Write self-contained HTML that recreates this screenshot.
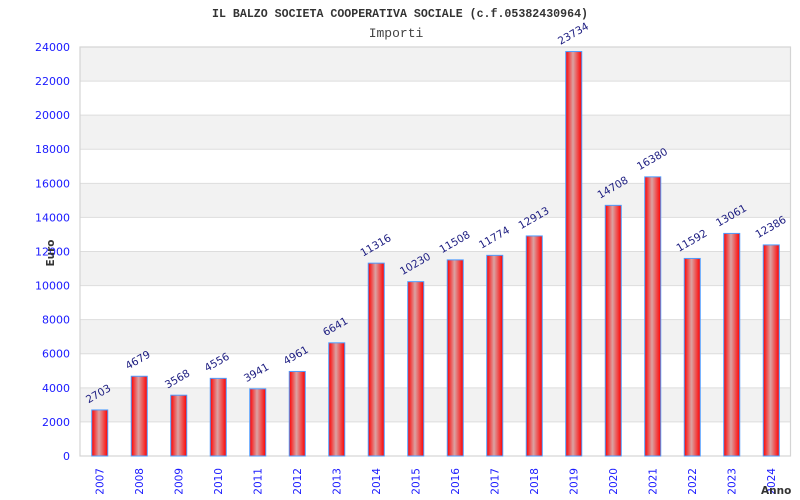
<!DOCTYPE html>
<html><head><meta charset="utf-8"><style>
html,body{margin:0;padding:0;background:#fff;}
svg{display:block;}
</style></head><body>
<svg width="800" height="500" viewBox="0 0 800 500" xmlns="http://www.w3.org/2000/svg">
<defs>
<linearGradient id="bg" x1="0" y1="0" x2="1" y2="0">
<stop offset="0" stop-color="#ff0000"/>
<stop offset="0.45" stop-color="#dba3a3"/>
<stop offset="1" stop-color="#ff0000"/>
</linearGradient>
</defs>
<rect x="0" y="0" width="800" height="500" fill="#fff"/>
<text x="400" y="17" text-anchor="middle" textLength="376" lengthAdjust="spacingAndGlyphs" font-family="Liberation Mono, monospace" font-weight="bold" font-size="11.5" fill="#333">IL BALZO SOCIETA COOPERATIVA SOCIALE (c.f.05382430964)</text>
<text x="396" y="37" text-anchor="middle" font-family="Liberation Mono, monospace" font-size="13" fill="#444">Importi</text>
<!-- bands -->
<g fill="#f2f2f2">
<rect x="80" y="387.83" width="710.5" height="34.09"/>
<rect x="80" y="319.67" width="710.5" height="34.08"/>
<rect x="80" y="251.5" width="710.5" height="34.08"/>
<rect x="80" y="183.33" width="710.5" height="34.09"/>
<rect x="80" y="115.17" width="710.5" height="34.08"/>
<rect x="80" y="47" width="710.5" height="34.08"/>
</g>
<g stroke="#dddddd" stroke-width="1">
<line x1="80" x2="790.5" y1="421.92" y2="421.92"/>
<line x1="80" x2="790.5" y1="387.83" y2="387.83"/>
<line x1="80" x2="790.5" y1="353.75" y2="353.75"/>
<line x1="80" x2="790.5" y1="319.67" y2="319.67"/>
<line x1="80" x2="790.5" y1="285.58" y2="285.58"/>
<line x1="80" x2="790.5" y1="251.5" y2="251.5"/>
<line x1="80" x2="790.5" y1="217.42" y2="217.42"/>
<line x1="80" x2="790.5" y1="183.33" y2="183.33"/>
<line x1="80" x2="790.5" y1="149.25" y2="149.25"/>
<line x1="80" x2="790.5" y1="115.17" y2="115.17"/>
<line x1="80" x2="790.5" y1="81.08" y2="81.08"/>
</g>
<rect x="80" y="47" width="710.5" height="409" fill="none" stroke="#d4d4d4" stroke-width="1.2"/>
<!-- y ticks -->
<g font-family="DejaVu Sans, sans-serif" font-size="11" fill="#1a1aff" text-anchor="end">
<text x="70" y="460">0</text>
<text x="70" y="425.9">2000</text>
<text x="70" y="391.8">4000</text>
<text x="70" y="357.7">6000</text>
<text x="70" y="323.7">8000</text>
<text x="70" y="289.6">10000</text>
<text x="70" y="255.5">12000</text>
<text x="70" y="221.4">14000</text>
<text x="70" y="187.3">16000</text>
<text x="70" y="153.2">18000</text>
<text x="70" y="119.2">20000</text>
<text x="70" y="85.1">22000</text>
<text x="70" y="51">24000</text>
</g>
<!-- bars -->
<g fill="url(#bg)" stroke="#4d9cff" stroke-width="1">
<rect x="91.75" y="409.94" width="16" height="46.06"/>
<rect x="131.25" y="376.26" width="16" height="79.74"/>
<rect x="170.75" y="395.2" width="16" height="60.8"/>
<rect x="210.25" y="378.36" width="16" height="77.64"/>
<rect x="249.75" y="388.84" width="16" height="67.16"/>
<rect x="289.25" y="371.46" width="16" height="84.54"/>
<rect x="328.75" y="342.83" width="16" height="113.17"/>
<rect x="368.25" y="263.16" width="16" height="192.84"/>
<rect x="407.75" y="281.66" width="16" height="174.34"/>
<rect x="447.25" y="259.88" width="16" height="196.12"/>
<rect x="486.75" y="255.35" width="16" height="200.65"/>
<rect x="526.25" y="235.94" width="16" height="220.06"/>
<rect x="565.75" y="51.53" width="16" height="404.47"/>
<rect x="605.25" y="205.35" width="16" height="250.65"/>
<rect x="644.75" y="176.86" width="16" height="279.14"/>
<rect x="684.25" y="258.45" width="16" height="197.55"/>
<rect x="723.75" y="233.42" width="16" height="222.58"/>
<rect x="763.25" y="244.92" width="16" height="211.08"/>
</g>
<!-- value labels -->
<g font-family="DejaVu Sans, sans-serif" font-size="10.5" fill="#1c1c80">
<text transform="translate(88.5,403.5) rotate(-30)">2703</text>
<text transform="translate(128,369.8) rotate(-30)">4679</text>
<text transform="translate(167.5,388.7) rotate(-30)">3568</text>
<text transform="translate(207,371.9) rotate(-30)">4556</text>
<text transform="translate(246.5,382.3) rotate(-30)">3941</text>
<text transform="translate(286,365) rotate(-30)">4961</text>
<text transform="translate(325.5,336.3) rotate(-30)">6641</text>
<text transform="translate(363,256.7) rotate(-30)">11316</text>
<text transform="translate(402.5,275.2) rotate(-30)">10230</text>
<text transform="translate(442,253.4) rotate(-30)">11508</text>
<text transform="translate(481.5,248.9) rotate(-30)">11774</text>
<text transform="translate(521,229.4) rotate(-30)">12913</text>
<text transform="translate(560.5,45) rotate(-30)">23734</text>
<text transform="translate(600,198.9) rotate(-30)">14708</text>
<text transform="translate(639.5,170.4) rotate(-30)">16380</text>
<text transform="translate(679,252) rotate(-30)">11592</text>
<text transform="translate(718.5,226.9) rotate(-30)">13061</text>
<text transform="translate(758,238.4) rotate(-30)">12386</text>
</g>
<!-- x labels -->
<g font-family="DejaVu Sans, sans-serif" font-size="10.5" fill="#1a1aff" text-anchor="end">
<text transform="translate(103.5,468) rotate(-90)">2007</text>
<text transform="translate(143,468) rotate(-90)">2008</text>
<text transform="translate(182.5,468) rotate(-90)">2009</text>
<text transform="translate(222,468) rotate(-90)">2010</text>
<text transform="translate(261.5,468) rotate(-90)">2011</text>
<text transform="translate(301,468) rotate(-90)">2012</text>
<text transform="translate(340.5,468) rotate(-90)">2013</text>
<text transform="translate(380,468) rotate(-90)">2014</text>
<text transform="translate(419.5,468) rotate(-90)">2015</text>
<text transform="translate(459,468) rotate(-90)">2016</text>
<text transform="translate(498.5,468) rotate(-90)">2017</text>
<text transform="translate(538,468) rotate(-90)">2018</text>
<text transform="translate(577.5,468) rotate(-90)">2019</text>
<text transform="translate(617,468) rotate(-90)">2020</text>
<text transform="translate(656.5,468) rotate(-90)">2021</text>
<text transform="translate(696,468) rotate(-90)">2022</text>
<text transform="translate(735.5,468) rotate(-90)">2023</text>
<text transform="translate(775,468) rotate(-90)">2024</text>
</g>
<text x="761" y="494" font-family="DejaVu Sans, sans-serif" font-weight="bold" font-size="10.5" fill="#333">Anno</text>
<text transform="translate(54,253) rotate(-90)" text-anchor="middle" font-family="DejaVu Sans, sans-serif" font-weight="bold" font-size="10.5" fill="#333">Euro</text>
</svg>
</body></html>
